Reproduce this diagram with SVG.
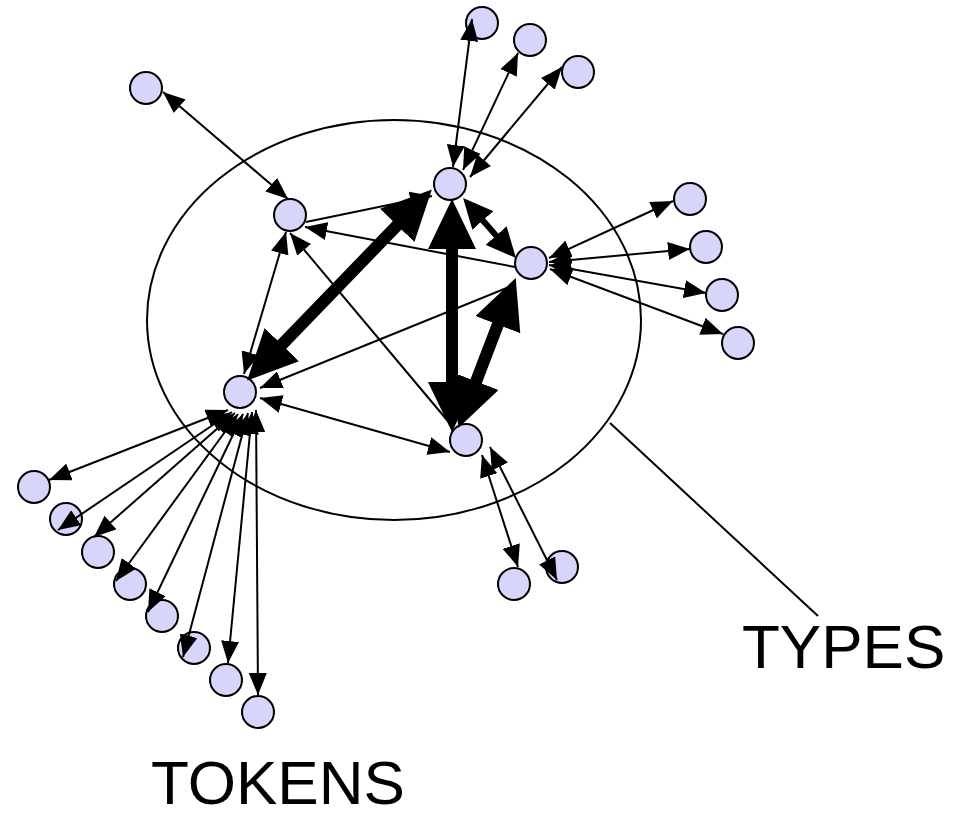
<svg xmlns="http://www.w3.org/2000/svg" width="969" height="817" viewBox="0 0 969 817">
<style>
.node{fill:#D6D6FB;stroke:#000;stroke-width:2}
.thin{stroke:#000;stroke-width:2;fill:none;marker-start:url(#ah);marker-end:url(#ah)}
.one{stroke:#000;stroke-width:2;fill:none;marker-end:url(#ah)}
.med{stroke:#000;stroke-width:6;fill:none;marker-start:url(#am);marker-end:url(#am)}
.thick{stroke:#000;stroke-width:12;fill:none;marker-start:url(#at);marker-end:url(#at)}
.lbl{font-family:"Liberation Sans",Arial,sans-serif;font-size:62px;fill:#000}
</style>
<defs>
<marker id="ah" markerUnits="userSpaceOnUse" viewBox="0 0 22 18" markerWidth="22" markerHeight="18" refX="22" refY="9" orient="auto-start-reverse"><path d="M0,0 L22,9 L0,18 z" fill="#000"/></marker>
<marker id="am" markerUnits="userSpaceOnUse" viewBox="0 0 30 28" markerWidth="30" markerHeight="28" refX="18" refY="14" orient="auto-start-reverse"><path d="M0,0 L30,14 L0,28 z" fill="#000"/></marker>
<marker id="at" markerUnits="userSpaceOnUse" viewBox="0 0 50 48" markerWidth="50" markerHeight="48" refX="20" refY="24" orient="auto-start-reverse"><path d="M0,0 L50,24 L0,48 z" fill="#000"/></marker>
</defs>
<rect width="969" height="817" fill="#fff"/>
<g id="types-region">
<ellipse cx="394" cy="320" rx="247" ry="200" fill="none" stroke="#000" stroke-width="2"/>
<line x1="610" y1="423" x2="818" y2="616" stroke="#000" stroke-width="2"/>
</g>
<g id="node-A"><circle class="node" cx="146" cy="88" r="16"/></g>
<g id="node-B"><circle class="node" cx="290" cy="215" r="16"/></g>
<g id="node-C"><circle class="node" cx="450" cy="184" r="16"/></g>
<g id="node-D"><circle class="node" cx="531" cy="263" r="16"/></g>
<g id="node-E"><circle class="node" cx="240" cy="392" r="16"/></g>
<g id="node-F"><circle class="node" cx="466" cy="440" r="16"/></g>
<g id="node-T1"><circle class="node" cx="482" cy="23" r="16"/></g>
<g id="node-T2"><circle class="node" cx="530" cy="40" r="16"/></g>
<g id="node-T3"><circle class="node" cx="578" cy="72" r="16"/></g>
<g id="node-R1"><circle class="node" cx="690" cy="199" r="16"/></g>
<g id="node-R2"><circle class="node" cx="706" cy="247" r="16"/></g>
<g id="node-R3"><circle class="node" cx="722" cy="295" r="16"/></g>
<g id="node-R4"><circle class="node" cx="738" cy="343" r="16"/></g>
<g id="node-Bo1"><circle class="node" cx="514" cy="584" r="16"/></g>
<g id="node-Bo2"><circle class="node" cx="562" cy="567" r="16"/></g>
<g id="node-L1"><circle class="node" cx="34" cy="487" r="16"/></g>
<g id="node-L2"><circle class="node" cx="66" cy="519" r="16"/></g>
<g id="node-L3"><circle class="node" cx="98" cy="552" r="16"/></g>
<g id="node-L4"><circle class="node" cx="130" cy="584" r="16"/></g>
<g id="node-L5"><circle class="node" cx="162" cy="616" r="16"/></g>
<g id="node-L6"><circle class="node" cx="194" cy="648" r="16"/></g>
<g id="node-L7"><circle class="node" cx="226" cy="680" r="16"/></g>
<g id="node-L8"><circle class="node" cx="258" cy="712" r="16"/></g>
<g id="connectors">
<line class="thin" x1="163" y1="92" x2="288" y2="199"/>
<line class="thin" x1="472" y1="19" x2="453" y2="167"/>
<line class="thin" x1="518" y1="53" x2="463" y2="170"/>
<line class="thin" x1="562" y1="67" x2="470" y2="177"/>
<line class="one" x1="306" y1="222" x2="432" y2="196"/>
<line class="one" x1="515" y1="267" x2="305" y2="227"/>
<line class="one" x1="452" y1="426" x2="290" y2="233"/>
<line class="thin" x1="286" y1="232" x2="244" y2="374"/>
<line class="one" x1="514" y1="285" x2="260" y2="388"/>
<line class="thin" x1="450" y1="452" x2="260" y2="398"/>
<line class="thin" x1="228" y1="410" x2="49" y2="480"/>
<line class="thin" x1="232" y1="412" x2="58" y2="530"/>
<line class="thin" x1="235" y1="413" x2="94" y2="537"/>
<line class="thin" x1="238" y1="414" x2="116" y2="581"/>
<line class="thin" x1="243" y1="414" x2="148" y2="612"/>
<line class="thin" x1="248" y1="413" x2="183" y2="657"/>
<line class="thin" x1="252" y1="412" x2="228" y2="663"/>
<line class="thin" x1="256" y1="410" x2="258" y2="695"/>
<line class="thin" x1="549" y1="258" x2="673" y2="201"/>
<line class="thin" x1="549" y1="262" x2="690" y2="249"/>
<line class="thin" x1="549" y1="265" x2="706" y2="293"/>
<line class="thin" x1="550" y1="269" x2="723" y2="334"/>
<line class="thin" x1="482" y1="455" x2="518" y2="567"/>
<line class="thin" x1="490" y1="447" x2="557" y2="580"/>
<line class="med" x1="471" y1="207" x2="508" y2="249"/>
<line class="thick" x1="268" y1="359" x2="411" y2="211"/>
<line class="thick" x1="452" y1="229" x2="452" y2="402"/>
<line class="thick" x1="469" y1="400" x2="505" y2="306"/>
</g>
<text class="lbl" x="742" y="668">TYPES</text>
<text class="lbl" x="151" y="804">TOKENS</text>
</svg>
